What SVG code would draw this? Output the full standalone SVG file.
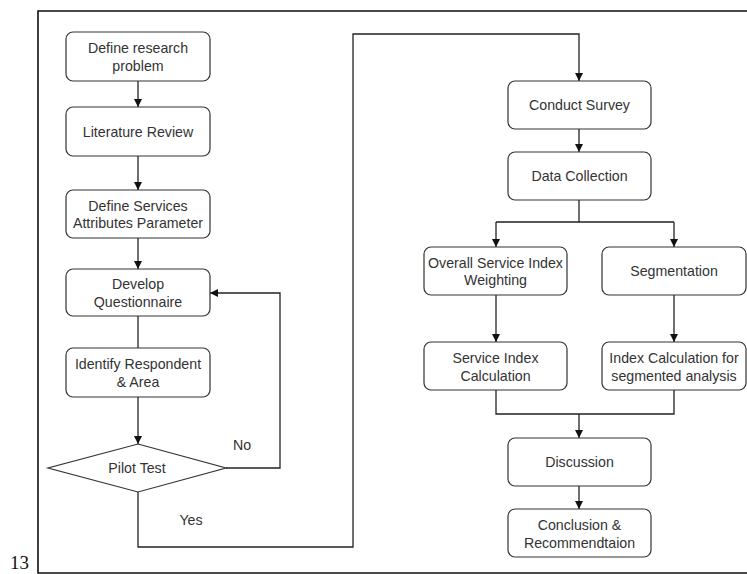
<svg xmlns="http://www.w3.org/2000/svg" width="747" height="574" viewBox="0 0 747 574">
<defs>
<marker id="arr" viewBox="0 0 10 10" refX="10" refY="5" markerWidth="8" markerHeight="8" markerUnits="userSpaceOnUse" orient="auto">
<path d="M0,0 L10,5 L0,10 Z" fill="#111"/>
</marker>
<style>
.box{fill:#fff;stroke:#333;stroke-width:1.2}
.t{font-family:"Liberation Sans",Arial,sans-serif;font-size:14.2px;fill:#333;text-anchor:middle}
.c{fill:none;stroke:#222;stroke-width:1.3}
.a{marker-end:url(#arr)}
</style>
</defs>
<rect width="747" height="574" fill="#fff"/>
<path d="M747,11 H38 V573 H747" fill="none" stroke="#111" stroke-width="1.6"/>
<text x="10" y="569" font-family="Liberation Serif,'Times New Roman',serif" font-size="19" fill="#111">13</text>

<g id="connectors">
<path class="c a" d="M138,81 V107"/>
<path class="c a" d="M138,156 V190"/>
<path class="c a" d="M138,238 V269"/>
<path class="c" d="M138,316 V348"/>
<path class="c a" d="M138,397 V444"/>
<path class="c a" d="M226,468 H280 V293 H210"/>
<path class="c a" d="M138,492 V547 H353 V34 H579 V81"/>
<path class="c a" d="M579,129 V152"/>
<path class="c" d="M579,200 V222 M496,222 H674"/>
<path class="c a" d="M496,222 V247"/>
<path class="c a" d="M674,222 V247"/>
<path class="c a" d="M496,295 V342"/>
<path class="c a" d="M674,295 V342"/>
<path class="c" d="M496,390 V414 H674 V390"/>
<path class="c a" d="M579,414 V438"/>
<path class="c a" d="M579,486 V509"/>
<text class="t" x="242" y="450">No</text>
<text class="t" x="191" y="525">Yes</text>
</g>

<g id="n1"><rect class="box" x="66" y="32" width="144" height="49" rx="7"/><text class="t" x="138" y="53">Define research</text><text class="t" x="138" y="71">problem</text></g>
<g id="n2"><rect class="box" x="66" y="107" width="144" height="49" rx="7"/><text class="t" x="138" y="136.5">Literature Review</text></g>
<g id="n3"><rect class="box" x="66" y="190" width="144" height="48" rx="7"/><text class="t" x="138" y="211">Define Services</text><text class="t" x="138" y="228">Attributes Parameter</text></g>
<g id="n4"><rect class="box" x="66" y="269" width="144" height="47" rx="7"/><text class="t" x="138" y="288.5">Develop</text><text class="t" x="138" y="306.5">Questionnaire</text></g>
<g id="n5"><rect class="box" x="66" y="348" width="144" height="49" rx="7"/><text class="t" x="138" y="368.5">Identify Respondent</text><text class="t" x="138" y="386.5">&amp; Area</text></g>
<g id="n6"><path class="box" d="M138,444 L226,468 L138,492 L48,468 Z"/><text class="t" x="137" y="473">Pilot Test</text></g>

<g id="n7"><rect class="box" x="508" y="81" width="143" height="48" rx="7"/><text class="t" x="579.5" y="110">Conduct Survey</text></g>
<g id="n8"><rect class="box" x="508" y="152" width="143" height="48" rx="7"/><text class="t" x="579.5" y="181">Data Collection</text></g>
<g id="n9"><rect class="box" x="424" y="247" width="143" height="48" rx="7"/><text class="t" x="495.5" y="268">Overall Service Index</text><text class="t" x="495.5" y="285">Weighting</text></g>
<g id="n10"><rect class="box" x="602" y="247" width="144" height="48" rx="7"/><text class="t" x="674" y="276">Segmentation</text></g>
<g id="n11"><rect class="box" x="424" y="342" width="143" height="48" rx="7"/><text class="t" x="495.5" y="363">Service Index</text><text class="t" x="495.5" y="381">Calculation</text></g>
<g id="n12"><rect class="box" x="602" y="342" width="144" height="48" rx="7"/><text class="t" x="674" y="363">Index Calculation for</text><text class="t" x="674" y="381">segmented analysis</text></g>
<g id="n13"><rect class="box" x="508" y="438" width="143" height="48" rx="7"/><text class="t" x="579.5" y="467">Discussion</text></g>
<g id="n14"><rect class="box" x="508" y="509" width="143" height="48" rx="7"/><text class="t" x="579.5" y="530">Conclusion &amp;</text><text class="t" x="579.5" y="548">Recommendtaion</text></g>
</svg>
